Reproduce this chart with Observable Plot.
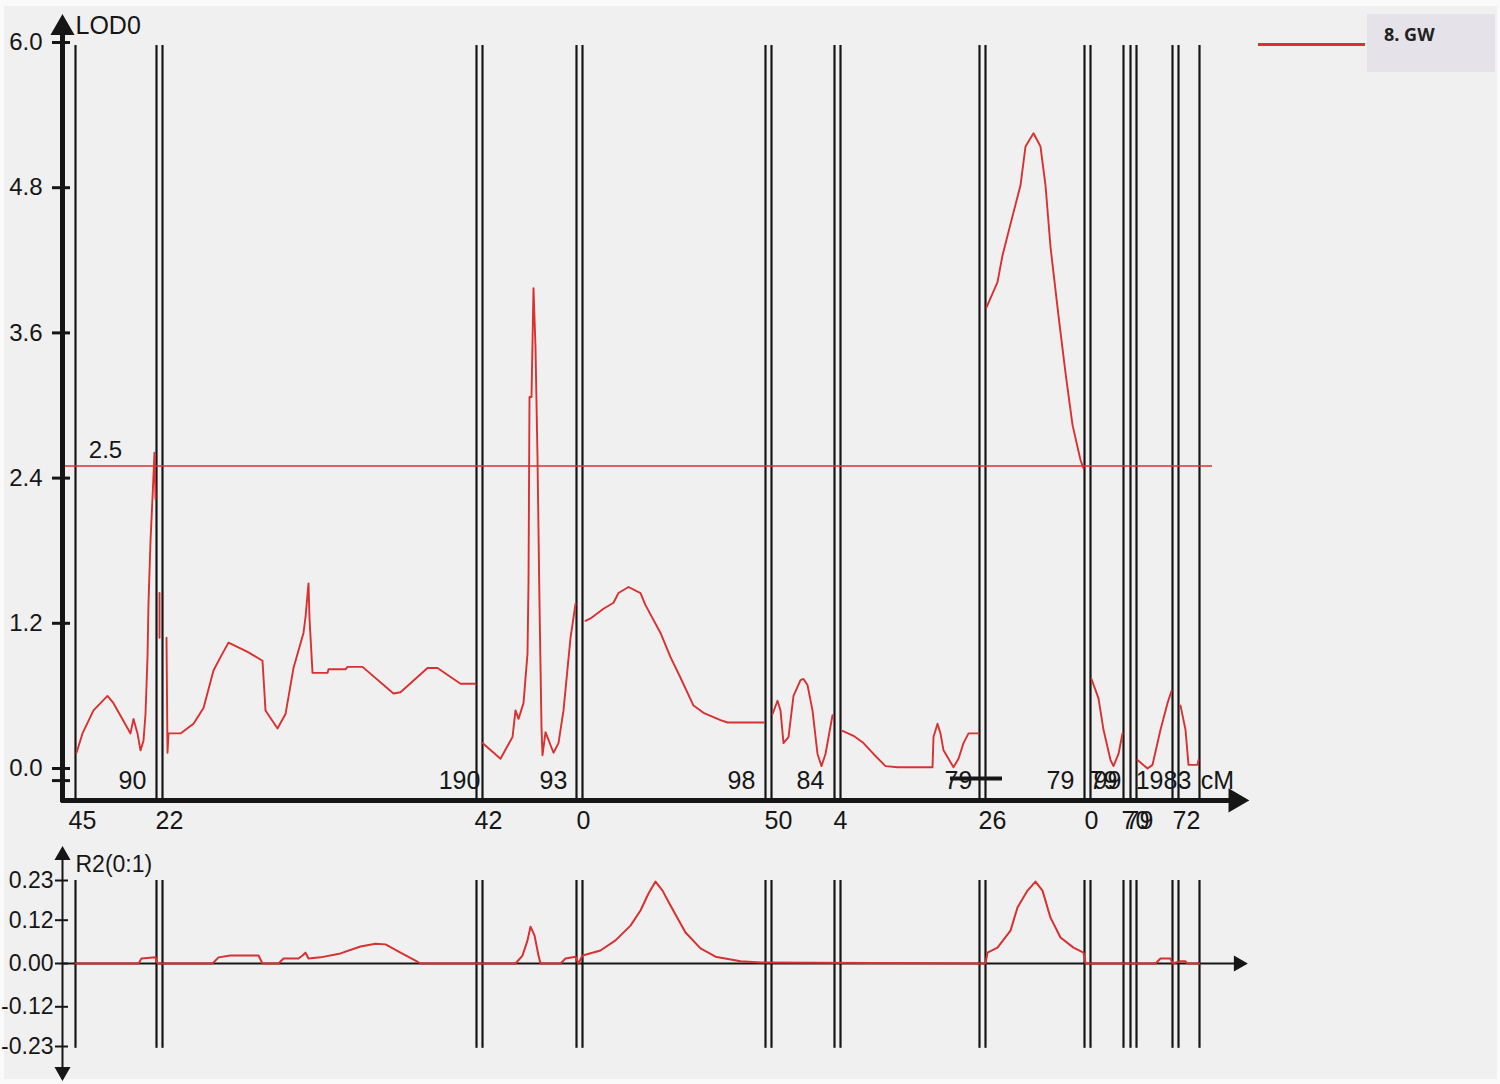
<!DOCTYPE html>
<html>
<head>
<meta charset="utf-8">
<script src="https://cdn.jsdelivr.net/npm/d3@7"></script>
<script src="https://cdn.jsdelivr.net/npm/@observablehq/plot@0.6"></script>
<style>
  html, body { margin: 0; padding: 0; background: #fafafa; width: 1500px; height: 1084px; overflow: hidden; }
  #frame { position: absolute; left: 4px; top: 6px; width: 1493px; height: 1073px; background: #f0f0f0; }
  #topchart { position: absolute; left: 0; top: 0; }
  #bottomchart { position: absolute; left: 0; top: 840px; }
  #legend-line { position: absolute; left: 1258px; top: 43px; width: 107px; height: 3px; background: #d93030; }
  #legend-box { position: absolute; left: 1367px; top: 14px; width: 128px; height: 58px; background: #e6e2ea; }
  #legend-text { position: absolute; left: 1384px; top: 22px; font: bold 18px "Open Sans", sans-serif; color: #222; }
</style>
</head>
<body>
<div id="frame"></div>
<div id="topchart"></div>
<div id="bottomchart"></div>
<div id="legend-line"></div>
<div id="legend-box"></div>
<div id="legend-text">8. GW</div>
<script>
// ---------- DATA ----------
// LOD profile: cumulative position along the map (cM-like units) and LOD score
const lodPos = [
  13,19,30,44,50,67,70,74,77,80,82,84,85,87,89,91,92,
  96,96,
  103,104,105,117,130,140,150,157,165,180,185,199,202,214,222,230,240,242,245,246,249,264,265,282,284,299,330,337,364,374,397,412,
  419,437,449,452,455,460,464,465,466,468,470,472,474,476,478,479,482,490,495,500,507,512,
  522,527,540,550,555,565,577,582,597,607,617,630,640,657,664,700,
  709,714,717,720,725,730,737,740,744,749,754,758,762,769,
  779,790,800,810,822,834,869,870,874,877,880,890,895,900,905,915,
  923,934,939,947,957,962,970,977,982,987,995,1002,1009,1017,1020,
  1028,1035,1040,1047,1050,1055,1059,
  1074,1084,1089,1097,1104,1108,
  1117,1122,1125,1134,1135
];
const lodVal = [
  0.13,0.29,0.48,0.60,0.54,0.29,0.41,0.29,0.15,0.23,0.45,0.92,1.37,1.88,2.24,2.61,2.23,
  1.45,1.08,
  1.08,0.13,0.29,0.29,0.37,0.50,0.81,0.92,1.04,0.98,0.96,0.89,0.48,0.33,0.45,0.83,1.12,1.25,1.53,1.24,0.79,0.79,0.82,0.82,0.84,0.84,0.62,0.63,0.83,0.83,0.70,0.70,
  0.21,0.08,0.26,0.48,0.41,0.54,0.95,1.53,3.07,3.07,3.97,3.48,2.57,1.36,0.34,0.11,0.30,0.13,0.21,0.48,1.08,1.36,
  1.22,1.24,1.32,1.37,1.45,1.50,1.45,1.35,1.12,0.92,0.75,0.52,0.46,0.40,0.38,0.38,
  0.45,0.56,0.48,0.21,0.26,0.60,0.73,0.74,0.69,0.48,0.12,0.02,0.12,0.44,
  0.31,0.27,0.21,0.12,0.02,0.01,0.01,0.26,0.37,0.29,0.15,0.01,0.08,0.21,0.29,0.29,
  3.81,4.02,4.24,4.50,4.82,5.14,5.25,5.14,4.82,4.31,3.74,3.27,2.84,2.55,2.48,
  0.74,0.58,0.32,0.07,0.02,0.12,0.29,
  0.07,0.00,0.03,0.32,0.54,0.64,
  0.52,0.32,0.03,0.03,0.07
];
// R2 profile
const r2Pos = [
  12,75,78,92,94,149,155,167,195,199,215,220,235,239,242,245,257,277,297,312,322,337,352,357,
  452,459,464,467,471,475,477,497,502,512,515,
  519,537,552,567,577,585,592,599,607,622,637,652,677,697,
  922,924,934,947,954,964,972,979,987,997,1010,1020,1022,
  1092,1097,1107,1109,1117,1122,1124,1136
];
const r2Val = [
  0,0,0.014,0.017,0,0,0.017,0.022,0.022,0,0,0.014,0.014,0.022,0.030,0.014,0.017,0.028,0.047,0.055,0.053,0.030,0.008,0,
  0,0.022,0.064,0.102,0.078,0.022,0,0,0.014,0.019,0,
  0.022,0.036,0.064,0.105,0.147,0.194,0.227,0.202,0.161,0.086,0.042,0.019,0.006,0.003,
  0,0.030,0.044,0.091,0.155,0.202,0.227,0.202,0.127,0.072,0.044,0.030,0,
  0,0.014,0.014,0,0.006,0.006,0,0
];
// marker (boundary) positions
const markerPos = [12, 93, 99, 413, 419, 513, 519, 702, 708, 771, 777, 916, 922, 1021, 1027, 1060, 1067, 1073, 1109, 1115, 1136];
// labels below the x axis (chromosome start values)
const startLabelPos = [19, 106, 425, 520, 715, 777, 929, 1028, 1072, 1076, 1123];
const startLabelText = ["45", "22", "42", "0", "50", "4", "26", "0", "70", "79", "72"];
// labels above the x axis (chromosome end values)
const endLabelPos = [69, 396, 490, 678, 747, 895, 997, 1040, 1044, 1100, 1154];
const endLabelText = ["90", "190", "93", "98", "84", "79", "79", "79", "99", "1983", "cM"];
// y ticks
const lodTicks = [0, 1.2, 2.4, 3.6, 4.8, 6.0];
const r2Ticks = [0.23, 0.12, 0, -0.12, -0.23];
const r2TickText = ["0.23", "0.12", "0.00", "-0.12", "-0.23"];
const threshold = 2.5;

// ---------- STYLE ----------
const RED = "#d93030";
const INK = "#161616";
const FONT = "'Liberation Sans Narrow', 'Arial Narrow', 'Liberation Sans', sans-serif";

// segment id = interval between marker lines the point falls in
const lodData = lodPos.map((p, i) => ({pos: p, lod: lodVal[i], seg: d3.bisectRight(markerPos, p)}));
const r2Data = r2Pos.map((p, i) => ({pos: p, r2: r2Val[i]}));
const startLabels = startLabelPos.map((p, i) => ({pos: p, text: startLabelText[i]}));
const endLabels = endLabelPos.map((p, i) => ({pos: p, text: endLabelText[i]}));

const xScale = {type: "linear", domain: [0, 1180], range: [63, 1243], axis: null};
const AX_Y = -0.264; // LOD value where the x axis is drawn

const lodPlot = Plot.plot({
  width: 1500, height: 840,
  style: {background: "transparent", overflow: "visible", fontFamily: FONT},
  x: xScale,
  y: {type: "linear", domain: [0, 6], range: [768, 42], axis: null},
  marks: [
    Plot.ruleX(markerPos, {x: d => d, y1: 5.975, y2: AX_Y, stroke: INK, strokeWidth: 2.2}),
    Plot.ruleY([threshold], {x1: 0, x2: 1149, stroke: RED, strokeWidth: 1.6}),
    Plot.text([threshold], {x: 42, y: 2.63, text: d => d.toFixed(1), fontSize: 24, fill: INK, fontFamily: FONT}),
    Plot.line(lodData, {x: "pos", y: "lod", z: "seg", stroke: RED, strokeWidth: 1.9, curve: "linear"}),
    Plot.ruleY([AX_Y], {x1: -2, x2: 1170, stroke: INK, strokeWidth: 5}),
    Plot.dot([0], {x: 1172, y: AX_Y, symbol: "triangle", r: 8, fill: INK, stroke: INK, rotate: 90}),
    Plot.ruleX([-1], {y1: AX_Y - 0.02, y2: 6.1, stroke: INK, strokeWidth: 5}),
    Plot.dot([0], {x: -1, y: 6.12, symbol: "triangle", r: 8, fill: INK, stroke: INK}),
    Plot.ruleY(lodTicks, {x1: -11, x2: 7, stroke: INK, strokeWidth: 3}),
    Plot.ruleY([-0.1], {x1: -11, x2: 7, stroke: INK, strokeWidth: 3}),
    Plot.text(lodTicks, {x: -1, y: d => d, dx: -20, text: d => d.toFixed(1), textAnchor: "end", fontSize: 24, fill: INK, fontFamily: FONT}),
    Plot.text(["LOD0"], {x: 12, y: 6.14, text: d => d, textAnchor: "start", fontSize: 25, fill: INK, fontFamily: FONT}),
    Plot.ruleY([-0.083], {x1: 887, x2: 939, stroke: INK, strokeWidth: 4}),
    Plot.text(endLabels, {x: "pos", y: -0.107, text: "text", fontSize: 25, fill: INK, fontFamily: FONT}),
    Plot.text(startLabels, {x: "pos", y: -0.438, text: "text", fontSize: 25, fill: INK, fontFamily: FONT})
  ]
});
document.getElementById("topchart").appendChild(lodPlot);

const r2Plot = Plot.plot({
  width: 1500, height: 244,
  style: {background: "transparent", overflow: "visible", fontFamily: FONT},
  x: xScale,
  y: {type: "linear", domain: [0, 0.23], range: [123, 40], axis: null},
  marks: [
    Plot.ruleX(markerPos, {x: d => d, y1: 0.23, y2: -0.235, stroke: INK, strokeWidth: 2.2}),
    Plot.ruleY([0], {x1: -1, x2: 1172, stroke: INK, strokeWidth: 2}),
    Plot.dot([0], {x: 1175, y: 0, symbol: "triangle", r: 5, fill: INK, stroke: INK, rotate: 90}),
    Plot.ruleX([-1], {y1: -0.31, y2: 0.31, stroke: INK, strokeWidth: 2}),
    Plot.dot([0], {x: -1, y: 0.3, symbol: "triangle", r: 5, fill: INK, stroke: INK}),
    Plot.dot([0], {x: -1, y: -0.3, symbol: "triangle", r: 5, fill: INK, stroke: INK, rotate: 180}),
    Plot.ruleY(r2Ticks, {x1: -8, x2: 5, stroke: INK, strokeWidth: 2}),
    Plot.text(r2Ticks, {x: -1, y: d => d, dx: -9, text: (d, i) => r2TickText[i], textAnchor: "end", fontSize: 23, fill: INK, fontFamily: FONT}),
    Plot.text(["R2(0:1)"], {x: 12, y: 0.274, text: d => d, textAnchor: "start", fontSize: 23, fill: INK, fontFamily: FONT}),
    Plot.line(r2Data, {x: "pos", y: "r2", stroke: RED, strokeWidth: 2})
  ]
});
document.getElementById("bottomchart").appendChild(r2Plot);
</script>
</body>
</html>
